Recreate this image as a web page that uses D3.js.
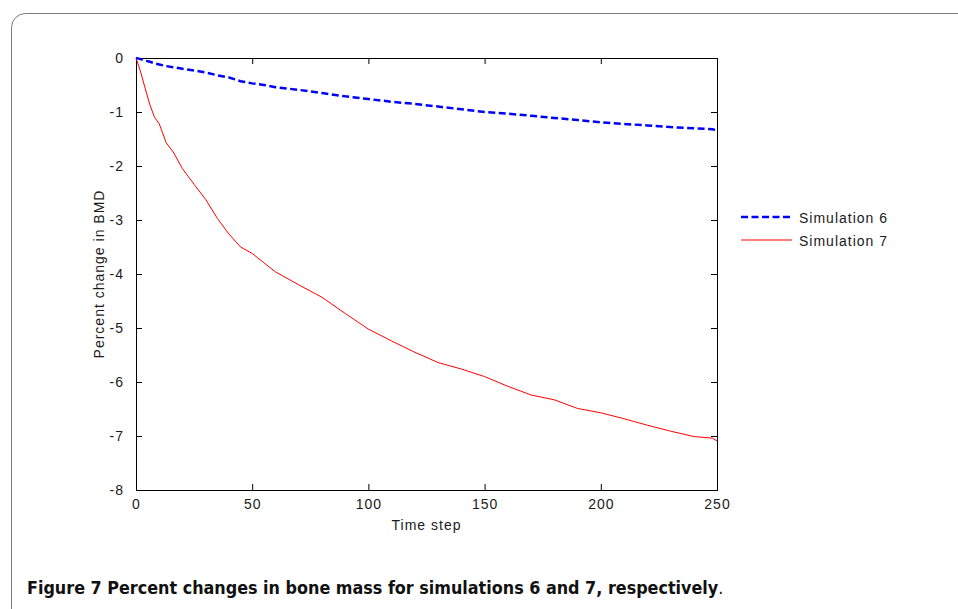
<!DOCTYPE html>
<html>
<head>
<meta charset="utf-8">
<script src="https://cdn.jsdelivr.net/npm/d3@7"></script>
<style>
  html, body { margin: 0; padding: 0; background: #fff; }
  svg { display: block; }
  .tick-label, .axis-title, .legend-text { font-family: "Liberation Sans", Arial, sans-serif; font-size: 14px; letter-spacing: 1px; fill: #1a1a1a; }
  .caption { font-family: "Liberation Sans Narrow", "DejaVu Sans Condensed", sans-serif; font-size: 17.8px; fill: #111; }
</style>
</head>
<body>
<svg id="chart" width="958" height="609"></svg>
<script>
// Time steps at which the two simulations were sampled
const timeSteps = [0, 2, 4, 6, 8, 10, 13, 16, 20, 25, 30, 35, 40, 45, 50, 55, 60, 70, 80, 90, 100,
  110, 120, 130, 140, 150, 160, 170, 180, 190, 200, 210, 220, 230, 240, 248, 250];

// Percent change in BMD, simulation 6
const sim6 = [0, -0.02, -0.05, -0.07, -0.10, -0.12, -0.15, -0.17, -0.20, -0.23, -0.27, -0.32, -0.36, -0.43, -0.47, -0.50, -0.54, -0.59, -0.65, -0.71, -0.76,
  -0.81, -0.85, -0.90, -0.95, -1.00, -1.03, -1.07, -1.11, -1.15, -1.19, -1.22, -1.25, -1.28, -1.30, -1.32, -1.34];

// Percent change in BMD, simulation 7
const sim7 = [0, -0.26, -0.57, -0.87, -1.10, -1.22, -1.57, -1.74, -2.05, -2.34, -2.62, -2.97, -3.26, -3.50, -3.62, -3.79, -3.96, -4.20, -4.43, -4.73, -5.02,
  -5.24, -5.45, -5.64, -5.76, -5.90, -6.08, -6.24, -6.33, -6.49, -6.57, -6.68, -6.80, -6.91, -7.01, -7.04, -7.09];

const seriesNames = ["Simulation 6", "Simulation 7"];
const xTicks = [0, 50, 100, 150, 200, 250];
const yTicks = [0, -1, -2, -3, -4, -5, -6, -7, -8];
const xTitle = "Time step";
const yTitle = "Percent change in BMD";
const captionBold = "Figure 7 Percent changes in bone mass for simulations 6 and 7, respectively";

const svg = d3.select("#chart");

// Panel frame with a rounded corner
svg.append("rect")
  .attr("x", 11.5).attr("y", 13.5)
  .attr("width", 980).attr("height", 640)
  .attr("rx", 14).attr("ry", 14)
  .attr("fill", "none")
  .attr("stroke", "#7a7a7a")
  .attr("stroke-width", 1);

const plot = { left: 136, right: 717, top: 58, bottom: 490 };

const x = d3.scaleLinear().domain([0, 250]).range([plot.left, plot.right]);
const y = d3.scaleLinear().domain([-8, 0]).range([plot.bottom, plot.top]);

// Plain hyphen-minus labels
const plainNum = d => String(d);

// Axes: ticks point inward on all four sides
const axisG = svg.append("g");

const bottomAxis = axisG.append("g")
  .attr("transform", `translate(0,${plot.bottom})`)
  .call(d3.axisBottom(x).tickValues(xTicks).tickSize(-6).tickPadding(9).tickFormat(plainNum));
axisG.append("g")
  .attr("transform", `translate(0,${plot.top})`)
  .call(d3.axisTop(x).tickValues(xTicks).tickSize(-6).tickFormat(""));
const leftAxis = axisG.append("g")
  .attr("transform", `translate(${plot.left},0)`)
  .call(d3.axisLeft(y).tickValues(yTicks).tickSize(-6).tickPadding(12).tickFormat(plainNum));
axisG.append("g")
  .attr("transform", `translate(${plot.right},0)`)
  .call(d3.axisRight(y).tickValues(yTicks).tickSize(-6).tickFormat(""));

axisG.selectAll(".domain").attr("stroke", "#000").attr("stroke-width", 1);
axisG.selectAll(".tick line").attr("stroke", "#000").attr("stroke-width", 1);
axisG.selectAll(".tick text").attr("class", "tick-label");
axisG.selectAll("g").attr("font-size", null).attr("font-family", null);
bottomAxis.selectAll(".tick text").attr("dy", "0.71em");
leftAxis.selectAll(".tick text").attr("dy", "0.34em");

// Series lines
const line = d3.line()
  .x((d, i) => x(timeSteps[i]))
  .y(d => y(d));

svg.append("path")
  .datum(sim7)
  .attr("d", line)
  .attr("fill", "none")
  .attr("stroke", "#ff0000")
  .attr("stroke-width", 1);

svg.append("path")
  .datum(sim6)
  .attr("d", line)
  .attr("fill", "none")
  .attr("stroke", "#0000ff")
  .attr("stroke-width", 2.5)
  .attr("stroke-dasharray", "7,3.5");

// Axis titles
svg.append("text")
  .attr("class", "axis-title")
  .attr("x", (plot.left + plot.right) / 2)
  .attr("y", 530)
  .attr("text-anchor", "middle")
  .text(xTitle);

svg.append("text")
  .attr("class", "axis-title")
  .attr("transform", `translate(104,${(plot.top + plot.bottom) / 2}) rotate(-90)`)
  .attr("text-anchor", "middle")
  .text(yTitle);

// Legend
const legend = svg.append("g").attr("transform", "translate(741,0)");
const legendRows = [
  { name: seriesNames[0], color: "#0000ff", width: 2.5, dash: "7,3.5", y: 217 },
  { name: seriesNames[1], color: "#ff0000", width: 1, dash: null, y: 240 }
];
legendRows.forEach(r => {
  legend.append("line")
    .attr("x1", 0).attr("x2", 51)
    .attr("y1", r.y).attr("y2", r.y)
    .attr("stroke", r.color)
    .attr("stroke-width", r.width)
    .attr("stroke-dasharray", r.dash);
  legend.append("text")
    .attr("class", "legend-text")
    .attr("x", 58).attr("y", r.y + 6)
    .text(r.name);
});

// Caption
const cap = svg.append("text")
  .attr("class", "caption")
  .attr("x", 27).attr("y", 594);
cap.append("tspan").attr("font-weight", "bold").text(captionBold);
cap.append("tspan").attr("font-weight", "normal").text(".");
</script>
</body>
</html>
